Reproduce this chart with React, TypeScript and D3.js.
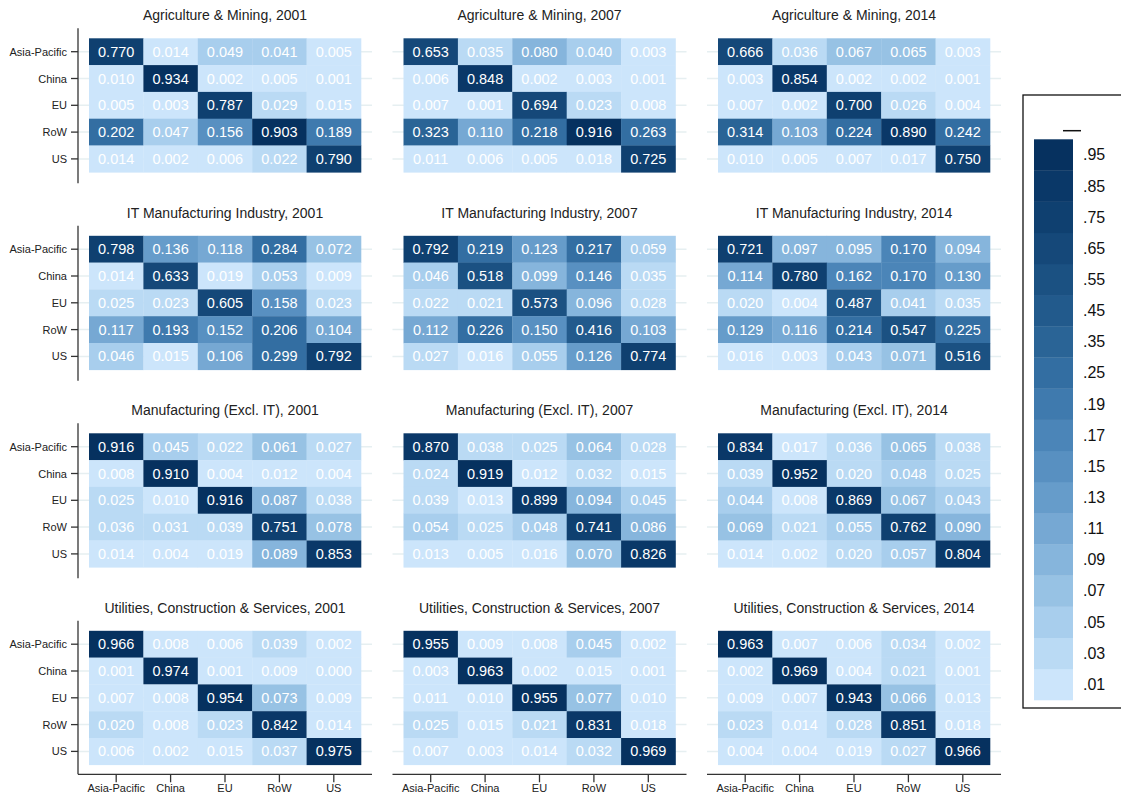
import React from 'react';
import * as d3 from 'd3';

const regions = ['Asia-Pacific', 'China', 'EU', 'RoW', 'US'];
const sectors = [
  'Agriculture & Mining',
  'IT Manufacturing Industry',
  'Manufacturing (Excl. IT)',
  'Utilities, Construction & Services',
];
const years = ['2001', '2007', '2014'];

const agri2001 = [
  [0.770, 0.014, 0.049, 0.041, 0.005],
  [0.010, 0.934, 0.002, 0.005, 0.001],
  [0.005, 0.003, 0.787, 0.029, 0.015],
  [0.202, 0.047, 0.156, 0.903, 0.189],
  [0.014, 0.002, 0.006, 0.022, 0.790],
];
const agri2007 = [
  [0.653, 0.035, 0.080, 0.040, 0.003],
  [0.006, 0.848, 0.002, 0.003, 0.001],
  [0.007, 0.001, 0.694, 0.023, 0.008],
  [0.323, 0.110, 0.218, 0.916, 0.263],
  [0.011, 0.006, 0.005, 0.018, 0.725],
];
const agri2014 = [
  [0.666, 0.036, 0.067, 0.065, 0.003],
  [0.003, 0.854, 0.002, 0.002, 0.001],
  [0.007, 0.002, 0.700, 0.026, 0.004],
  [0.314, 0.103, 0.224, 0.890, 0.242],
  [0.010, 0.005, 0.007, 0.017, 0.750],
];
const it2001 = [
  [0.798, 0.136, 0.118, 0.284, 0.072],
  [0.014, 0.633, 0.019, 0.053, 0.009],
  [0.025, 0.023, 0.605, 0.158, 0.023],
  [0.117, 0.193, 0.152, 0.206, 0.104],
  [0.046, 0.015, 0.106, 0.299, 0.792],
];
const it2007 = [
  [0.792, 0.219, 0.123, 0.217, 0.059],
  [0.046, 0.518, 0.099, 0.146, 0.035],
  [0.022, 0.021, 0.573, 0.096, 0.028],
  [0.112, 0.226, 0.150, 0.416, 0.103],
  [0.027, 0.016, 0.055, 0.126, 0.774],
];
const it2014 = [
  [0.721, 0.097, 0.095, 0.170, 0.094],
  [0.114, 0.780, 0.162, 0.170, 0.130],
  [0.020, 0.004, 0.487, 0.041, 0.035],
  [0.129, 0.116, 0.214, 0.547, 0.225],
  [0.016, 0.003, 0.043, 0.071, 0.516],
];
const manuf2001 = [
  [0.916, 0.045, 0.022, 0.061, 0.027],
  [0.008, 0.910, 0.004, 0.012, 0.004],
  [0.025, 0.010, 0.916, 0.087, 0.038],
  [0.036, 0.031, 0.039, 0.751, 0.078],
  [0.014, 0.004, 0.019, 0.089, 0.853],
];
const manuf2007 = [
  [0.870, 0.038, 0.025, 0.064, 0.028],
  [0.024, 0.919, 0.012, 0.032, 0.015],
  [0.039, 0.013, 0.899, 0.094, 0.045],
  [0.054, 0.025, 0.048, 0.741, 0.086],
  [0.013, 0.005, 0.016, 0.070, 0.826],
];
const manuf2014 = [
  [0.834, 0.017, 0.036, 0.065, 0.038],
  [0.039, 0.952, 0.020, 0.048, 0.025],
  [0.044, 0.008, 0.869, 0.067, 0.043],
  [0.069, 0.021, 0.055, 0.762, 0.090],
  [0.014, 0.002, 0.020, 0.057, 0.804],
];
const util2001 = [
  [0.966, 0.008, 0.006, 0.039, 0.002],
  [0.001, 0.974, 0.001, 0.009, 0.000],
  [0.007, 0.008, 0.954, 0.073, 0.009],
  [0.020, 0.008, 0.023, 0.842, 0.014],
  [0.006, 0.002, 0.015, 0.037, 0.975],
];
const util2007 = [
  [0.955, 0.009, 0.008, 0.045, 0.002],
  [0.003, 0.963, 0.002, 0.015, 0.001],
  [0.011, 0.010, 0.955, 0.077, 0.010],
  [0.025, 0.015, 0.021, 0.831, 0.018],
  [0.007, 0.003, 0.014, 0.032, 0.969],
];
const util2014 = [
  [0.963, 0.007, 0.006, 0.034, 0.002],
  [0.002, 0.969, 0.004, 0.021, 0.001],
  [0.009, 0.007, 0.943, 0.066, 0.013],
  [0.023, 0.014, 0.028, 0.851, 0.018],
  [0.004, 0.004, 0.019, 0.027, 0.966],
];

const panelValues = [
  [agri2001, agri2007, agri2014],
  [it2001, it2007, it2014],
  [manuf2001, manuf2007, manuf2014],
  [util2001, util2007, util2014],
];

const binThresholds = [0.02, 0.04, 0.06, 0.08, 0.10, 0.12, 0.14, 0.16, 0.18, 0.20, 0.30, 0.40, 0.50, 0.60, 0.70, 0.80, 0.90];
const legendLabels = ['.01', '.03', '.05', '.07', '.09', '.11', '.13', '.15', '.17', '.19', '.25', '.35', '.45', '.55', '.65', '.75', '.85', '.95'];
const binColors = [
  '#cce5fb', '#badaf4', '#a8ceed', '#97c2e4', '#86b5dc', '#76a8d3',
  '#669cca', '#5890c1', '#4b85b8', '#3f7aae', '#336ea2', '#2a6496',
  '#225a8c', '#1b5182', '#154879', '#0f4070', '#0a3868', '#06315f',
];

const color = d3.scaleThreshold<number, string>().domain(binThresholds).range(binColors);

const colX = [89, 403.5, 718];
const rowY = [38.3, 235.8, 433.3, 630.8];
const areaW = 272;
const areaH = 134;
const FONT = 'Liberation Sans, Arial, Helvetica, sans-serif';

function Panel({ r, c }: { r: number; c: number }) {
  const x0 = colX[c];
  const y0 = rowY[r];
  const x = d3.scaleBand<string>().domain(regions).range([x0, x0 + areaW]);
  const y = d3.scaleBand<string>().domain(regions).range([y0, y0 + areaH]);
  const vals = panelValues[r][c];
  const fmt = d3.format('.3f');
  const left = x0 - 11;
  const right = x0 + 283;
  const axisY = y0 + 143.5;
  const isBottom = r === sectors.length - 1;
  return (
    <g>
      {regions.map((reg) => (
        <line key={'g' + reg} x1={left} x2={right} y1={y(reg)! + y.bandwidth() / 2} y2={y(reg)! + y.bandwidth() / 2}
          stroke="#e6eff1" strokeWidth={1.5} />
      ))}
      {vals.map((row, i) =>
        row.map((v, j) => (
          <rect key={`c${i}-${j}`} x={x(regions[j])!} y={y(regions[i])!} width={x.bandwidth() + 0.3} height={y.bandwidth() + 0.3}
            fill={color(v)} />
        ))
      )}
      {vals.map((row, i) =>
        row.map((v, j) => (
          <text key={`t${i}-${j}`} x={x(regions[j])! + x.bandwidth() / 2} y={y(regions[i])! + y.bandwidth() / 2 + 5}
            textAnchor="middle" fontSize={14.5} fill="#ffffff" fontFamily={FONT}>{fmt(v)}</text>
        ))
      )}
      <text x={x0 + areaW / 2} y={y0 - 18} textAnchor="middle" fontSize={14} fill="#222" fontFamily={FONT}>
        {`${sectors[r]}, ${years[c]}`}
      </text>
      {c === 0 && (
        <g>
          <line x1={78} x2={78} y1={y0 - 10} y2={isBottom ? axisY : y0 + 145} stroke="#333" strokeWidth={1.3} />
          {regions.map((reg) => (
            <g key={'yt' + reg}>
              <line x1={71} x2={78} y1={y(reg)! + y.bandwidth() / 2} y2={y(reg)! + y.bandwidth() / 2} stroke="#333" strokeWidth={1.3} />
              <text x={67} y={y(reg)! + y.bandwidth() / 2 + 4} textAnchor="end" fontSize={11} fill="#222" fontFamily={FONT}>{reg}</text>
            </g>
          ))}
        </g>
      )}
      {isBottom && (
        <g>
          <line x1={left} x2={right} y1={axisY} y2={axisY} stroke="#333" strokeWidth={1.3} />
          {regions.map((reg) => (
            <g key={'xt' + reg}>
              <line x1={x(reg)! + x.bandwidth() / 2} x2={x(reg)! + x.bandwidth() / 2} y1={axisY} y2={axisY + 8} stroke="#333" strokeWidth={1.3} />
              <text x={x(reg)! + x.bandwidth() / 2} y={792} textAnchor="middle" fontSize={11} fill="#222" fontFamily={FONT}>{reg}</text>
            </g>
          ))}
        </g>
      )}
    </g>
  );
}

function Legend() {
  const top = 139.3;
  const bottom = 700;
  const ly = d3.scaleBand<string>().domain([...legendLabels].reverse()).range([top, bottom]);
  return (
    <g>
      <rect x={1023} y={95} width={120} height={613} fill="#fff" stroke="#111" strokeWidth={1.3} />
      <line x1={1063} x2={1081} y1={130.7} y2={130.7} stroke="#111" strokeWidth={1.5} />
      {legendLabels.map((lab, i) => (
        <g key={lab}>
          <rect x={1034} y={ly(lab)!} width={39} height={ly.bandwidth() + 0.3} fill={binColors[i]} />
          <text x={1083} y={ly(lab)! + ly.bandwidth() / 2 + 5.5} fontSize={16} fill="#111" fontFamily={FONT}>{lab}</text>
        </g>
      ))}
    </g>
  );
}

export default function App() {
  return (
    <svg width={1121} height={798} style={{ position: 'absolute', left: 0, top: 0, background: '#fff' }}>
      <rect x={0} y={0} width={1121} height={798} fill="#fff" />
      {sectors.map((s, r) => years.map((yr, c) => <Panel key={`${r}-${c}`} r={r} c={c} />))}
      <Legend />
    </svg>
  );
}
